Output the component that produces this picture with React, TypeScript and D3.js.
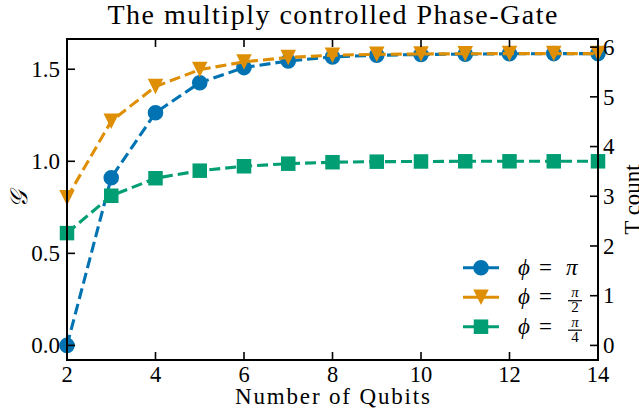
import React from "react";
import * as d3 from "d3";

const qubits = [2, 3, 4, 5, 6, 7, 8, 9, 10, 11, 12, 13, 14];
const gPhiPi = [0.0, 0.911, 1.264, 1.427, 1.509, 1.545, 1.567, 1.576, 1.58, 1.582, 1.584, 1.585, 1.585];
const gPhiPi2 = [0.802, 1.218, 1.406, 1.498, 1.54, 1.564, 1.576, 1.581, 1.583, 1.584, 1.585, 1.585, 1.585];
const gPhiPi4 = [0.61, 0.813, 0.908, 0.949, 0.973, 0.987, 0.995, 0.998, 0.999, 1.0, 1.0, 1.0, 1.0];
const xTicks = [2, 4, 6, 8, 10, 12, 14];
const yTicksLeft = [0.0, 0.5, 1.0, 1.5];
const yTicksRight = [0, 1, 2, 3, 4, 5, 6];
const tCountMax = 5.87;

const W = 639;
const H = 415;
const L = 67, R = 598, T = 39, B = 360;
const FONT = "'Liberation Serif', 'DejaVu Serif', serif";

const triangleDown = {
  draw(context: any, size: number) {
    const h = Math.sqrt(size) / 2;
    context.moveTo(0, h);
    context.lineTo(h, -h);
    context.lineTo(-h, -h);
    context.closePath();
  },
};

const series = [
  { name: "pi", values: gPhiPi, color: "#0173b2", symbol: d3.symbolCircle, size: Math.PI * 7.8 * 7.8 },
  { name: "pi2", values: gPhiPi2, color: "#de8f05", symbol: triangleDown, size: 15.5 * 15.5 },
  { name: "pi4", values: gPhiPi4, color: "#029e73", symbol: d3.symbolSquare, size: 14.5 * 14.5 },
];

export default function App() {
  const x = d3.scaleLinear().domain([2, 14]).range([L, R]);
  const maxG = d3.max([...gPhiPi, ...gPhiPi2, ...gPhiPi4]) as number;
  const y = d3.scaleLinear().domain([-0.05 * maxG, 1.05 * maxG]).range([B, T]);
  const yR = d3.scaleLinear().domain([-0.05 * tCountMax, 1.05 * tCountMax]).range([B, T]);
  const line = d3.line<number>().x((_, i) => x(qubits[i])).y((d) => y(d));

  const legendRows = [0, 1, 2].map((i) => 267.7 + i * 29.5);

  return (
    <svg width={W} height={H} style={{ position: "absolute", left: 0, top: 0, background: "#fff" }}>
      <rect x={0} y={0} width={W} height={H} fill="#fff" />
      <text x={(L + R) / 2} y={24} textAnchor="middle" fontFamily={FONT} fontSize={28} textLength={450} lengthAdjust="spacing">
        The multiply controlled Phase-Gate
      </text>

      {series.map((s) => (
        <g key={s.name}>
          <path d={line(s.values) as string} fill="none" stroke={s.color} strokeWidth={3.1} strokeDasharray="11,5" />
          {s.values.map((v, i) => (
            <path
              key={i}
              transform={`translate(${x(qubits[i])},${y(v)})`}
              d={d3.symbol(s.symbol as any, s.size)() as string}
              fill={s.color}
            />
          ))}
        </g>
      ))}

      {/* ticks */}
      {xTicks.map((t) => (
        <g key={"xt" + t}>
          <line x1={x(t)} x2={x(t)} y1={B} y2={B - 8} stroke="#000" strokeWidth={1.6} />
          <line x1={x(t)} x2={x(t)} y1={T} y2={T + 8} stroke="#000" strokeWidth={1.6} />
          <text x={x(t)} y={381.5} textAnchor="middle" fontFamily={FONT} fontSize={22.5}>
            {t}
          </text>
        </g>
      ))}
      {yTicksLeft.map((t) => (
        <g key={"yl" + t}>
          <line x1={L} x2={L + 8} y1={y(t)} y2={y(t)} stroke="#000" strokeWidth={1.6} />
          <text x={60} y={y(t) + 7.8} textAnchor="end" fontFamily={FONT} fontSize={23}>
            {t.toFixed(1)}
          </text>
        </g>
      ))}
      {yTicksRight.map((t) => (
        <g key={"yr" + t}>
          <line x1={R} x2={R - 8} y1={yR(t)} y2={yR(t)} stroke="#000" strokeWidth={1.6} />
          <text x={603} y={yR(t) + 7.8} textAnchor="start" fontFamily={FONT} fontSize={23}>
            {t}
          </text>
        </g>
      ))}

      <rect x={L} y={T} width={R - L} height={B - T} fill="none" stroke="#000" strokeWidth={2} />

      {/* axis labels */}
      <text x={(L + R) / 2} y={404} textAnchor="middle" fontFamily={FONT} fontSize={23} textLength={195} lengthAdjust="spacing">
        Number of Qubits
      </text>
      <text transform={`translate(27,${(T + B) / 2}) rotate(-90)`} textAnchor="middle" fontFamily={FONT} fontSize={24} fontStyle="italic">
        𝒢
      </text>
      <text transform={`translate(640,${(T + B) / 2}) rotate(-90)`} textAnchor="middle" fontFamily={FONT} fontSize={23}>
        T count
      </text>

      {/* legend */}
      {series.map((s, i) => {
        const ly = legendRows[i];
        return (
          <g key={"lg" + s.name}>
            <line x1={463} x2={499} y1={ly} y2={ly} stroke={s.color} strokeWidth={3.1} />
            <path transform={`translate(481,${ly})`} d={d3.symbol(s.symbol as any, s.size)() as string} fill={s.color} />
            <text x={518} y={ly + 7} fontFamily={FONT} fontSize={23} fontStyle="italic">
              ϕ
            </text>
            <text x={539} y={ly + 7} fontFamily={FONT} fontSize={23}>
              =
            </text>
          </g>
        );
      })}
      <text x={566} y={legendRows[0] + 7} fontFamily={FONT} fontSize={23} fontStyle="italic">
        π
      </text>
      {[2, 4].map((den, j) => {
        const ly = legendRows[j + 1];
        return (
          <g key={"fr" + den}>
            <text x={575} y={ly} textAnchor="middle" fontFamily={FONT} fontSize={15} fontStyle="italic">
              π
            </text>
            <line x1={568} x2={582} y1={ly + 3.5} y2={ly + 3.5} stroke="#000" strokeWidth={1.2} />
            <text x={575} y={ly + 15} textAnchor="middle" fontFamily={FONT} fontSize={15}>
              {den}
            </text>
          </g>
        );
      })}
    </svg>
  );
}
